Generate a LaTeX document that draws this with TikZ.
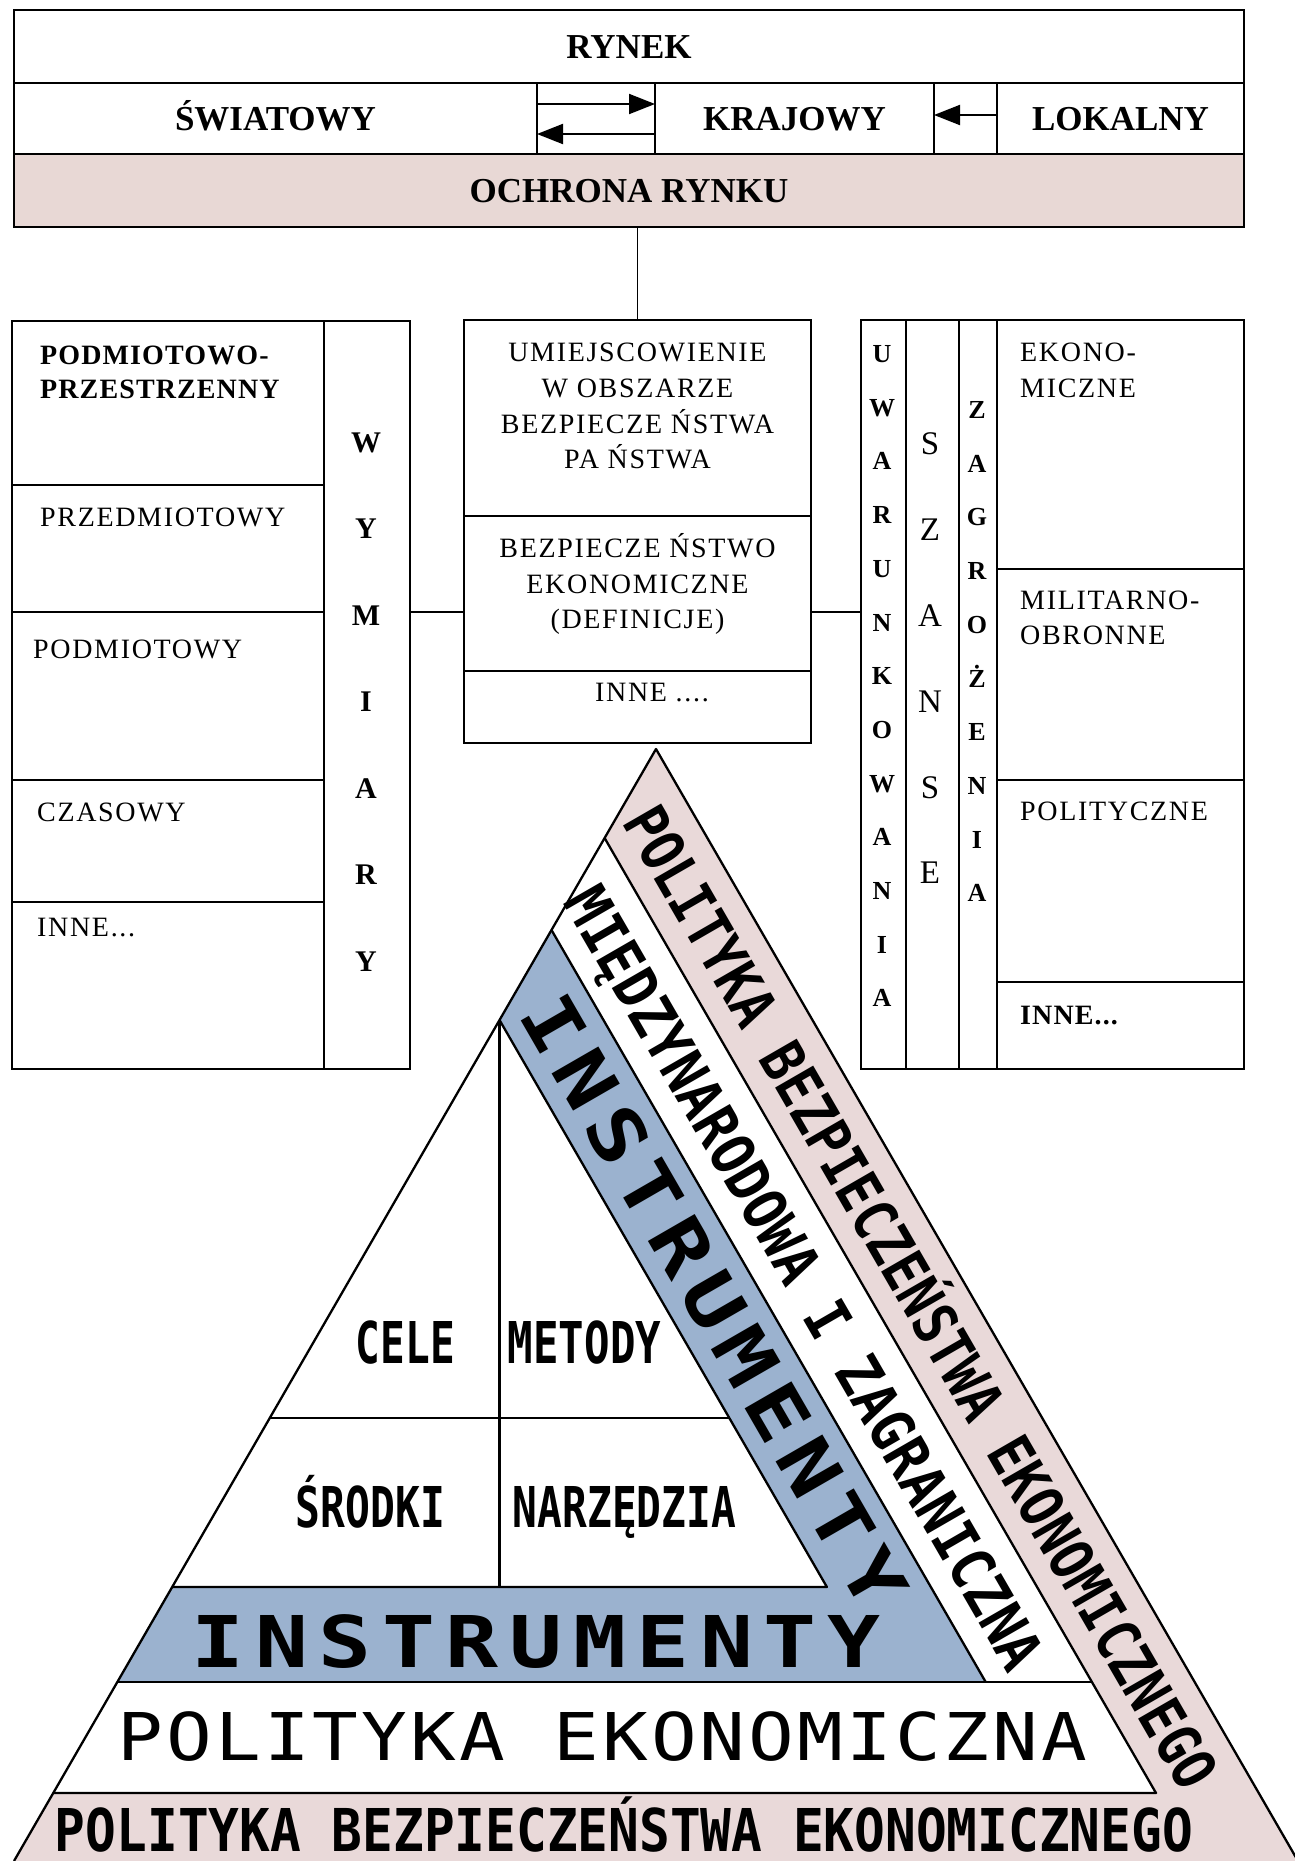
\documentclass[tikz,border=0pt]{standalone}
\usepackage{fontspec}
\setmainfont{Liberation Serif}
\newfontfamily\trimono{DejaVu Sans Mono}
\usepackage{graphicx}
\usetikzlibrary{arrows.meta}
\definecolor{pinkband}{RGB}{233,217,217}
\definecolor{ochrpink}{RGB}{232,216,213}
\definecolor{blueband}{RGB}{155,178,207}
\newcommand{\fitbox}[4]{\resizebox{#1pt}{#2pt}{#3\vphantom{I}\smash{#4}}}
\tikzset{
  cellbox/.style 2 args={draw, line width=1.8pt, inner sep=0pt, outer sep=0pt,
    minimum width=#1, minimum height=#2, anchor=north west},
  toptext/.style={font=\fontsize{35}{42}\selectfont\bfseries, text height=23pt, text depth=0pt},
  regtext/.style={font=\fontsize{28}{34}\selectfont\addfontfeature{LetterSpace=6}, inner sep=0pt},
  boldtext/.style={font=\fontsize{28}{34}\selectfont\bfseries\addfontfeature{LetterSpace=4}, inner sep=0pt},
  wletter/.style={font=\fontsize{30}{34}\selectfont\bfseries, inner sep=0pt, text height=20pt, text depth=0pt},
  uletter/.style={font=\fontsize{26}{30}\selectfont\bfseries, inner sep=0pt, text height=17pt, text depth=0pt},
  sletter/.style={font=\fontsize{33}{38}\selectfont, inner sep=0pt, text height=21.8pt, text depth=0pt},
  conn/.style={line width=1.8pt},
  arr/.style={line width=2pt, -{Triangle[length=26pt,width=20pt]}},
  tri/.style={line width=2.3pt, line join=round},
  tritext/.style={inner sep=0pt, outer sep=0pt},
}
\begin{document}
\begin{tikzpicture}[x=1pt,y=-1pt]
\useasboundingbox (0,0) rectangle (1295,1861);

% ---------- top block ----------
\node[cellbox={1230pt}{73pt}, toptext] (rynek) at (14,10) {RYNEK};
\node[cellbox={523pt}{71pt}, toptext] (swiat) at (14,83) {ŚWIATOWY};
\node[cellbox={118pt}{71pt}] (arrc) at (537,83) {};
\node[cellbox={279pt}{71pt}, toptext] (kraj) at (655,83) {KRAJOWY};
\node[cellbox={63pt}{71pt}] (arrd) at (934,83) {};
\node[cellbox={247pt}{71pt}, toptext] (lok) at (997,83) {LOKALNY};
\node[cellbox={1230pt}{73pt}, toptext, fill=ochrpink] (ochr) at (14,154) {OCHRONA RYNKU};

\draw[arr] ([yshift=14.5pt]arrc.west) -- ([yshift=14.5pt]kraj.west);
\draw[arr] ([yshift=-15.5pt]kraj.west) -- ([yshift=-15.5pt]arrc.west);
\draw[arr] ([yshift=3.5pt]lok.west) -- ([yshift=3.5pt]kraj.east);

% ---------- left block ----------
\node[cellbox={312pt}{164pt}] (c1) at (12,321) {};
\node[cellbox={312pt}{127pt}] (c2) at (12,485) {};
\node[cellbox={312pt}{168pt}] (c3) at (12,612) {};
\node[cellbox={312pt}{122pt}] (c4) at (12,780) {};
\node[cellbox={312pt}{167pt}] (c5) at (12,902) {};
\node[cellbox={86pt}{748pt}] (wym) at (324,321) {};

\node[boldtext, anchor=base west] (t1a) at (40,364) {PODMIOTOWO-};
\node[boldtext, anchor=base west] (t1b) at (40,398) {PRZESTRZENNY};
\node[regtext, anchor=base west] (t2) at (40,526) {PRZEDMIOTOWY};
\node[regtext, anchor=base west] (t3) at (33,658) {PODMIOTOWY};
\node[regtext, anchor=base west] (t4) at (37,821) {CZASOWY};
\node[regtext, anchor=base west] (t5) at (37,936) {INNE...};

\foreach \ch [count=\i from 0] in {W,Y,M,I,A,R,Y}
  \node[wletter] (wl\i) at (366,{442+\i*86.5}) {\ch};

% ---------- centre block ----------
\node[cellbox={347pt}{196pt}] (umi) at (464,320) {};
\node[cellbox={347pt}{155pt}] (bez) at (464,516) {};
\node[cellbox={347pt}{72pt}] (inn) at (464,671) {};

\node[regtext, anchor=base] (u1) at (637.5,361) {UMIEJSCOWIENIE};
\node[regtext, anchor=base] (u2) at (637.5,397) {W OBSZARZE};
\node[regtext, anchor=base] (u3) at (637.5,433) {BEZPIECZE ŃSTWA};
\node[regtext, anchor=base] (u4) at (637.5,468) {PA ŃSTWA};
\node[regtext, anchor=base] (b1) at (637.5,557) {BEZPIECZE ŃSTWO};
\node[regtext, anchor=base] (b2) at (637.5,593) {EKONOMICZNE};
\node[regtext, anchor=base] (b3) at (637.5,628) {(DEFINICJE)};
\node[regtext, anchor=base] (i1) at (652,701) {INNE ....};

% ---------- right block ----------
\node[cellbox={45pt}{749pt}] (uwa) at (861,320) {};
\node[cellbox={53pt}{749pt}] (sza) at (906,320) {};
\node[cellbox={38pt}{749pt}] (zag) at (959,320) {};
\node[cellbox={247pt}{249pt}] (e1) at (997,320) {};
\node[cellbox={247pt}{211pt}] (e2) at (997,569) {};
\node[cellbox={247pt}{202pt}] (e3) at (997,780) {};
\node[cellbox={247pt}{87pt}] (e4) at (997,982) {};

\foreach \ch [count=\i from 0] in {U,W,A,R,U,N,K,O,W,A,N,I,A}
  \node[uletter] (ul\i) at (882,{354+\i*53.7}) {\ch};
\foreach \ch [count=\i from 0] in {S,Z,A,N,S,E}
  \node[sletter] (sl\i) at (930,{444+\i*85.8}) {\ch};
\foreach \ch [count=\i from 0] in {Z,A,G,R,O,Ż,E,N,I,A}
  \node[uletter] (zl\i) at (977,{410+\i*53.7}) {\ch};

\node[regtext, anchor=base west] (r1a) at (1020,361) {EKONO-};
\node[regtext, anchor=base west] (r1b) at (1020,397) {MICZNE};
\node[regtext, anchor=base west] (r2a) at (1020,609) {MILITARNO-};
\node[regtext, anchor=base west] (r2b) at (1020,644) {OBRONNE};
\node[regtext, anchor=base west] (r3) at (1020,820) {POLITYCZNE};
\node[boldtext, anchor=base west] (r4) at (1020,1024) {INNE...};

% ---------- connectors ----------
\draw[conn] (umi.north |- ochr.south) -- (umi.north);
\draw[conn] (wym.east |- c3.north) -- (bez.west |- c3.north);
\draw[conn] (bez.east |- c3.north) -- (uwa.west |- c3.north);

% ---------- triangle ----------
\coordinate (A) at (656,749);
\coordinate (BL) at (14,1861);
\coordinate (BR) at (1298,1861);
\coordinate (q1a) at (604.6,838);
\coordinate (q1b) at (1156,1793);
\coordinate (h1a) at (53.2,1793);
\coordinate (q2a) at (551.5,930);
\coordinate (q2b) at (985.7,1682);
\coordinate (h2a) at (117.3,1682);
\coordinate (h2b) at (1091.9,1682);
\coordinate (q3a) at (499.5,1020);
\coordinate (q3b) at (826.9,1587);
\coordinate (h3a) at (172.1,1587);
\coordinate (h4a) at (269.7,1418);
\coordinate (h4b) at (729.3,1418);

\fill[pinkband] (A) -- (BR) -- (BL) -- cycle;
\fill[white] (q1a) -- (q1b) -- (h1a) -- cycle;
\fill[blueband] (q2a) -- (q2b) -- (h2a) -- cycle;
\fill[white] (q3a) -- (q3b) -- (h3a) -- cycle;

\draw[tri] (BL) -- (A) -- (BR);
\draw[tri] (q1a) -- (q1b) -- (h1a);
\draw[tri] (q2a) -- (q2b);
\draw[tri] (h2a) -- (h2b);
\draw[tri] (q3a) -- (q3b) -- (h3a);
\draw[tri] (q3a) -- (q3a |- q3b);
\draw[tri] (h4a) -- (h4b);

\node[tritext] (tpb) at (624,1830) {\fitbox{1138}{43}{\trimono\bfseries}{POLITYKA BEZPIECZEŃSTWA EKONOMICZNEGO}};
\node[tritext] (tpe) at (602.5,1736) {\fitbox{969}{48}{\trimono\addfontfeature{LetterSpace=4}}{POLITYKA EKONOMICZNA}};
\node[tritext] (tinh) at (536,1641) {\fitbox{688}{52}{\trimono\bfseries\addfontfeature{LetterSpace=12}}{INSTRUMENTY}};
\node[tritext] (tcele) at (405.5,1342) {\fitbox{99}{42}{\trimono\bfseries}{CELE}};
\node[tritext] (tmet) at (584.5,1342) {\fitbox{153}{42}{\trimono\bfseries}{METODY}};
\node[tritext] (tsro) at (370.5,1507) {\fitbox{149}{41}{\trimono\bfseries}{ŚRODKI}};
\node[tritext] (tnar) at (624.5,1507) {\fitbox{223}{41}{\trimono\bfseries}{NARZĘDZIA}};

\node[tritext, rotate=-60] (tpbr) at (921,1297) {\fitbox{1122}{44}{\trimono\bfseries}{POLITYKA BEZPIECZEŃSTWA EKONOMICZNEGO}};
\node[tritext, rotate=-60] (tmz) at (805,1278) {\fitbox{892}{44}{\trimono\bfseries}{MIĘDZYNARODOWA I ZAGRANICZNA}};
\node[tritext, rotate=-60] (tinr) at (714,1301) {\fitbox{692}{54}{\trimono\bfseries\addfontfeature{LetterSpace=12}}{INSTRUMENTY}};
\end{tikzpicture}
\end{document}
